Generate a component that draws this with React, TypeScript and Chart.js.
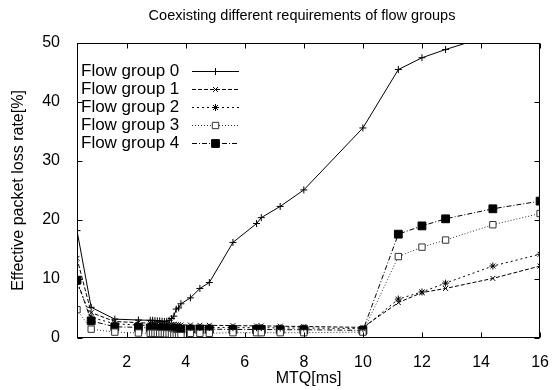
import React, { useEffect, useRef } from 'react';
import { Chart, registerables } from 'chart.js';
import { drawPoint } from 'chart.js/helpers';

Chart.register(...registerables);

const chartTitle = 'Coexisting different requirements of flow groups';
const xTitle = 'MTQ[ms]';
const yTitle = 'Effective packet loss rate[%]';
const seriesNames = ['Flow group 0', 'Flow group 1', 'Flow group 2', 'Flow group 3', 'Flow group 4'];

const mtq = [0.32, 0.8, 1.6, 2.4, 2.8, 2.88, 2.96, 3.04, 3.12, 3.2, 3.28, 3.36, 3.44, 3.52, 3.6, 3.68, 3.76, 3.84, 4.16, 4.48, 4.8, 5.6, 6.4, 6.56, 7.2, 8.0, 10, 11.2, 12, 12.8, 14.4, 16];
const group0 = [18.2, 5.2, 3.2, 3.05, 3.0, 3.0, 2.95, 2.9, 2.9, 2.85, 2.8, 2.85, 3.0, 3.3, 3.7, 4.9, 5.1, 5.8, 6.8, 8.4, 9.4, 16.2, 19.4, 20.4, 22.3, 25.1, 35.6, 45.5, 47.5, 48.9, 51.4, 54.0];
const group1 = [13.5, 4.3, 2.8, 2.6, 2.5, 2.5, 2.45, 2.4, 2.4, 2.4, 2.35, 2.3, 2.3, 2.3, 2.3, 2.25, 2.25, 2.2, 2.2, 2.15, 2.15, 2.1, 2.05, 2.05, 2.0, 1.95, 1.8, 6.0, 7.7, 8.4, 10.1, 12.2];
const group2 = [9.4, 3.5, 2.4, 2.2, 2.1, 2.1, 2.05, 2.0, 2.0, 2.0, 1.95, 1.95, 1.9, 1.9, 1.9, 1.85, 1.85, 1.85, 1.8, 1.8, 1.8, 1.75, 1.75, 1.75, 1.7, 1.7, 1.6, 6.6, 7.8, 9.3, 12.2, 14.2];
const group3 = [4.8, 1.5, 1.0, 0.85, 0.8, 0.8, 0.8, 0.8, 0.75, 0.75, 0.75, 0.7, 0.7, 0.6, 0.5, 0.4, 0.4, 0.4, 0.8, 0.8, 0.8, 0.9, 0.9, 0.9, 0.9, 0.9, 1.0, 13.8, 15.4, 16.6, 19.2, 21.1];
const group4 = [9.8, 2.9, 1.9, 1.8, 1.7, 1.7, 1.65, 1.6, 1.6, 1.6, 1.6, 1.55, 1.55, 1.5, 1.5, 1.5, 1.5, 1.5, 1.5, 1.5, 1.5, 1.45, 1.45, 1.45, 1.4, 1.4, 1.3, 17.6, 19.0, 20.2, 21.9, 23.2];
const groups = [group0, group1, group2, group3, group4];

const xMin = 0.32;
const xMax = 16;
const xStep = 2;
const yMin = 0;
const yMax = 50;
const yStep = 10;

const FONT = "'Liberation Sans', Arial, Helvetica, sans-serif";

const styles = [
  { dash: [], pointStyle: 'cross', radius: 3.5, color: '#000', bg: '#000' },
  { dash: [4, 2], pointStyle: 'crossRot', radius: 3.5, color: '#000', bg: '#000' },
  { dash: [2, 3], pointStyle: 'star', radius: 3.5, color: '#000', bg: '#000' },
  { dash: [1, 2], pointStyle: 'rect', radius: 4.5, color: '#333', bg: '#fff' },
  { dash: [5, 2, 1, 2], pointStyle: 'rect', radius: 5.5, color: '#000', bg: '#000' },
];

const framePlugin = {
  id: 'gnuFrame',
  afterDatasetsDraw(chart: any) {
    const { ctx, chartArea: a, scales } = chart;
    const x = scales.x;
    const y = scales.y;
    ctx.save();
    ctx.strokeStyle = '#000';
    ctx.lineWidth = 1;
    ctx.setLineDash([]);
    const L = Math.round(a.left) + 0.5;
    const R = Math.round(a.right) - 0.5;
    const T = Math.round(a.top) + 0.5;
    const B = Math.round(a.bottom) - 0.5;
    ctx.strokeRect(L, T, R - L, B - T);
    const tl = 5;
    ctx.beginPath();
    x.ticks.forEach((t: any) => {
      const px = Math.round(x.getPixelForValue(t.value)) + 0.5;
      ctx.moveTo(px, B); ctx.lineTo(px, B - tl);
      ctx.moveTo(px, T); ctx.lineTo(px, T + tl);
    });
    y.ticks.forEach((t: any) => {
      const py = Math.round(y.getPixelForValue(t.value)) + 0.5;
      ctx.moveTo(L, py); ctx.lineTo(L + tl, py);
      ctx.moveTo(R, py); ctx.lineTo(R - tl, py);
    });
    ctx.stroke();

    // title
    ctx.fillStyle = '#000';
    ctx.font = `14.5px ${FONT}`;
    ctx.textAlign = 'center';
    ctx.textBaseline = 'middle';
    ctx.fillText(chartTitle, 302, 16);

    // key (legend) inside the plot, text left of sample
    const x0 = 81;
    const y0 = 71;
    const dy = 18;
    ctx.font = `17px ${FONT}`;
    ctx.textBaseline = 'middle';
    ctx.textAlign = 'left';
    seriesNames.forEach((name, i) => {
      const yy = y0 + i * dy;
      const s = styles[i];
      ctx.fillStyle = '#000';
      ctx.fillText(name, x0, yy);
      ctx.save();
      ctx.strokeStyle = s.color;
      ctx.setLineDash(s.dash);
      ctx.beginPath();
      ctx.moveTo(192, Math.round(yy) + 0.5);
      ctx.lineTo(239, Math.round(yy) + 0.5);
      ctx.stroke();
      ctx.setLineDash([]);
      ctx.fillStyle = s.bg;
      ctx.strokeStyle = s.color;
      drawPoint(ctx, { pointStyle: s.pointStyle as any, radius: s.radius, rotation: 0, borderWidth: 1 }, 215.5, Math.round(yy) + 0.5);
      ctx.restore();
    });
    ctx.restore();
  },
};

export default function App() {
  const ref = useRef<HTMLCanvasElement | null>(null);
  useEffect(() => {
    document.body.style.margin = '0';
    const canvas = ref.current;
    if (!canvas) return;
    const chart = new Chart(canvas, {
      type: 'line',
      data: {
        datasets: groups.map((g, i) => ({
          label: seriesNames[i],
          data: g.map((v, j) => ({ x: mtq[j], y: v })),
          borderColor: styles[i].color,
          backgroundColor: styles[i].bg,
          pointBackgroundColor: styles[i].bg,
          pointBorderColor: styles[i].color,
          borderDash: styles[i].dash,
          borderWidth: 1,
          pointStyle: styles[i].pointStyle as any,
          pointRadius: styles[i].radius,
          pointBorderWidth: 1,
          tension: 0,
          fill: false,
        })),
      },
      options: {
        animation: false,
        responsive: false,
        devicePixelRatio: 1,
        layout: { padding: { left: 0, right: 12, top: 43, bottom: 0 } },
        plugins: {
          legend: { display: false },
          tooltip: { enabled: false },
          title: { display: false },
        },
        scales: {
          x: {
            type: 'linear',
            min: xMin,
            max: xMax,
            afterFit: (s: any) => { s.height = 52; },
            grid: { display: false },
            border: { display: false },
            ticks: {
              stepSize: xStep,
              includeBounds: false,
              color: '#000',
              padding: 7,
              maxRotation: 0,
              font: { family: FONT, size: 16 },
            },
            title: {
              display: true,
              text: xTitle,
              color: '#000',
              font: { family: FONT, size: 16 },
              padding: { top: 0, bottom: 2 },
            },
          },
          y: {
            type: 'linear',
            min: yMin,
            max: yMax,
            afterFit: (s: any) => { s.width = 77; },
            grid: { display: false },
            border: { display: false },
            ticks: {
              stepSize: yStep,
              color: '#000',
              padding: 9,
              font: { family: FONT, size: 16 },
            },
            title: {
              display: true,
              text: yTitle,
              color: '#000',
              font: { family: FONT, size: 16 },
              padding: { top: 9, bottom: 0 },
            },
          },
        },
      },
      plugins: [framePlugin],
    });
    return () => chart.destroy();
  }, []);
  return <canvas ref={ref} width={556} height={390} style={{ display: 'block' }} />;
}
